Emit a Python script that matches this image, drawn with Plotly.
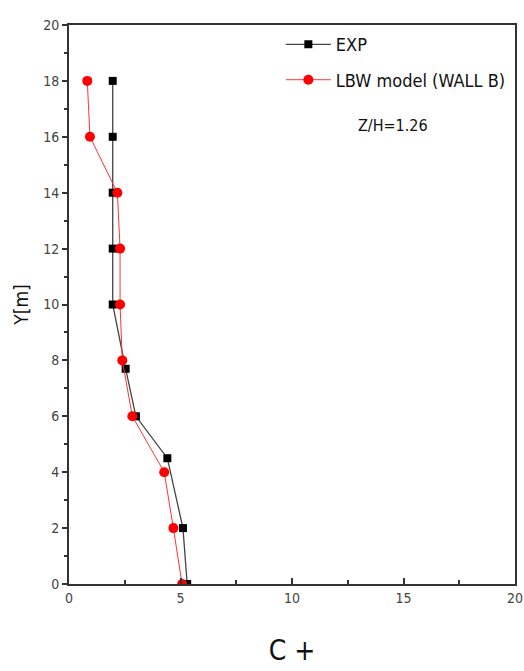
import plotly.graph_objects as go

exp_x = [1.96, 1.96, 1.96, 1.96, 1.96, 2.54, 3.0, 4.41, 5.11, 5.3]
exp_y = [18, 16, 14, 12, 10, 7.7, 6, 4.5, 2, 0]
lbw_x = [0.82, 0.94, 2.17, 2.29, 2.29, 2.39, 2.84, 4.27, 4.68, 5.07]
lbw_y = [18, 16, 14, 12, 10, 8, 6, 4, 2, 0]

FONT = "DejaVu Sans Condensed, Liberation Sans Narrow, Liberation Sans, sans-serif"

fig = go.Figure()
fig.add_trace(go.Scatter(x=exp_x, y=exp_y, mode="lines+markers", name="EXP",
                         legendgroup="a",
                         line=dict(color="#444444", width=1.3),
                         marker=dict(symbol="square", size=8, color="black")))
fig.add_trace(go.Scatter(x=lbw_x, y=lbw_y, mode="lines+markers", name="LBW model (WALL B)",
                         legendgroup="b",
                         line=dict(color="#ff3333", width=1),
                         marker=dict(symbol="circle", size=10, color="#ff0000")))

fig.update_layout(
    width=524, height=671,
    margin=dict(l=69, r=9, t=25, b=87, autoexpand=False),
    paper_bgcolor="white", plot_bgcolor="white",
    font=dict(family=FONT, color="#222222", size=14),
    showlegend=True,
    legend=dict(x=0.475, y=0.998, xanchor="left", yanchor="top",
                bgcolor="rgba(0,0,0,0)", font=dict(size=18, color="#111111"),
                itemwidth=45, tracegroupgap=9),
    xaxis=dict(range=[0, 20], tickvals=[0, 5, 10, 15, 20], ticks="inside",
               ticklen=6, tickwidth=1.5, tickcolor="#333333", automargin=False,
               minor=dict(tickvals=[2.5, 7.5, 12.5, 17.5], ticks="inside", ticklen=4,
                          tickcolor="#333333"),
               showline=True, linecolor="#333333", linewidth=2, mirror=True,
               showgrid=False, zeroline=False,
               tickfont=dict(size=14, color="#444444"),
               title=dict(text="C +", font=dict(size=28, color="#111111"), standoff=36)),
    yaxis=dict(range=[0, 20], tickvals=list(range(0, 21, 2)), ticks="outside",
               ticklen=5, tickwidth=1.5, tickcolor="#333333", automargin=False,
               minor=dict(tickvals=list(range(1, 20, 2)), ticks="outside", ticklen=3,
                          tickcolor="#333333"),
               showline=True, linecolor="#333333", linewidth=2, mirror=True,
               showgrid=False, zeroline=False,
               tickfont=dict(size=14, color="#444444"),
               title=dict(text="Y[m]", font=dict(size=19, color="#111111"), standoff=10)),
    annotations=[dict(x=0.81, y=0.84, xref="paper", yref="paper", text="Z/H=1.26",
                      showarrow=False, font=dict(size=16, color="#111111"))],
)

fig.write_html("out.html")
